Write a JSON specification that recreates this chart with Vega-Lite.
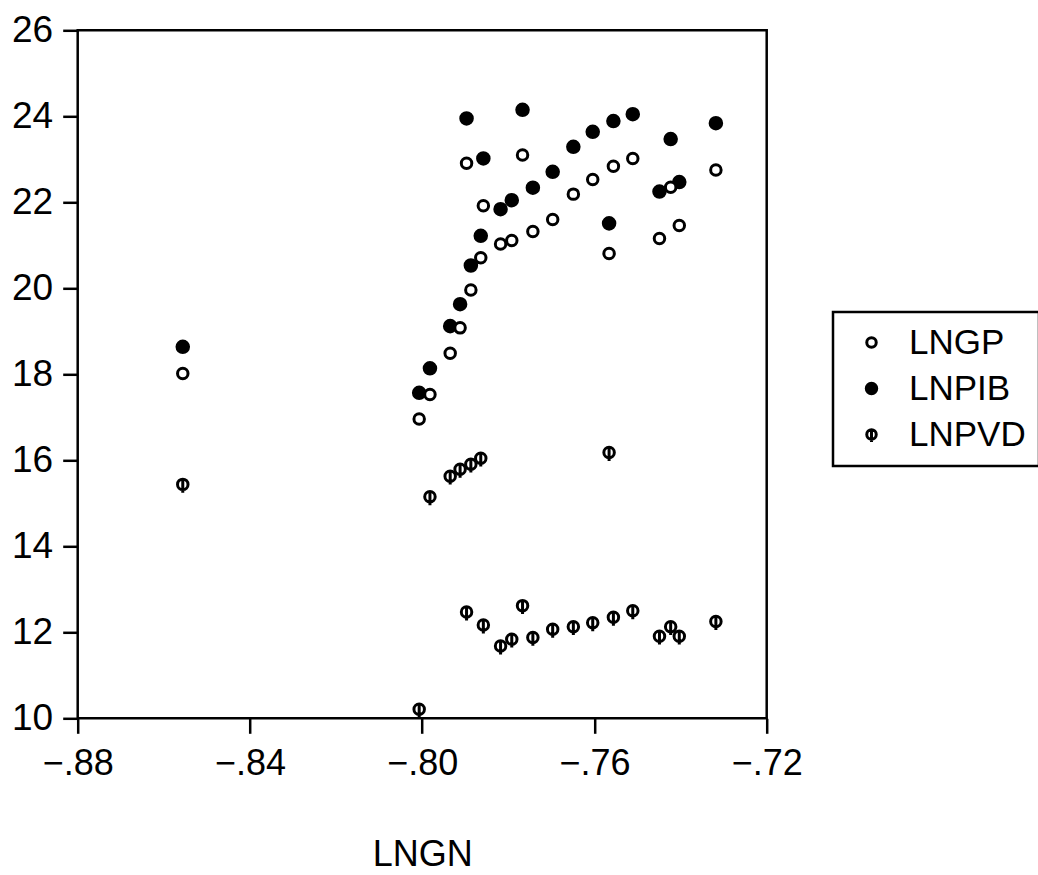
{
  "$schema": "https://vega.github.io/schema/vega-lite/v6.json",
  "width": 689,
  "height": 688,
  "autosize": {"type": "none"},
  "padding": {"left": 77.7, "top": 30.3, "right": 271.3, "bottom": 156.7},
  "background": "white",
  "config": {
    "font": "Liberation Sans",
    "view": {"stroke": "black", "strokeWidth": 2.5},
    "legend": {"strokeWidth": 2.5, "symbolStrokeWidth": 3}
  },
  "data": {
    "values": [
      {"LNGN": -0.8556, "series": "LNPIB", "value": 18.64},
      {"LNGN": -0.8007, "series": "LNPIB", "value": 17.57},
      {"LNGN": -0.7982, "series": "LNPIB", "value": 18.14},
      {"LNGN": -0.7935, "series": "LNPIB", "value": 19.12},
      {"LNGN": -0.7912, "series": "LNPIB", "value": 19.63},
      {"LNGN": -0.7887, "series": "LNPIB", "value": 20.53},
      {"LNGN": -0.7864, "series": "LNPIB", "value": 21.22},
      {"LNGN": -0.7897, "series": "LNPIB", "value": 23.95},
      {"LNGN": -0.7858, "series": "LNPIB", "value": 23.02},
      {"LNGN": -0.7818, "series": "LNPIB", "value": 21.84},
      {"LNGN": -0.7792, "series": "LNPIB", "value": 22.05},
      {"LNGN": -0.7767, "series": "LNPIB", "value": 24.15},
      {"LNGN": -0.7743, "series": "LNPIB", "value": 22.34},
      {"LNGN": -0.7697, "series": "LNPIB", "value": 22.71},
      {"LNGN": -0.7649, "series": "LNPIB", "value": 23.29},
      {"LNGN": -0.7604, "series": "LNPIB", "value": 23.64},
      {"LNGN": -0.7566, "series": "LNPIB", "value": 21.51},
      {"LNGN": -0.7556, "series": "LNPIB", "value": 23.89},
      {"LNGN": -0.7511, "series": "LNPIB", "value": 24.05},
      {"LNGN": -0.7449, "series": "LNPIB", "value": 22.25},
      {"LNGN": -0.7423, "series": "LNPIB", "value": 23.47},
      {"LNGN": -0.7403, "series": "LNPIB", "value": 22.47},
      {"LNGN": -0.7318, "series": "LNPIB", "value": 23.84},
      {"LNGN": -0.8556, "series": "LNGP", "value": 18.02},
      {"LNGN": -0.8007, "series": "LNGP", "value": 16.96},
      {"LNGN": -0.7982, "series": "LNGP", "value": 17.53},
      {"LNGN": -0.7935, "series": "LNGP", "value": 18.49},
      {"LNGN": -0.7912, "series": "LNGP", "value": 19.08},
      {"LNGN": -0.7887, "series": "LNGP", "value": 19.96},
      {"LNGN": -0.7864, "series": "LNGP", "value": 20.71},
      {"LNGN": -0.7897, "series": "LNGP", "value": 22.91},
      {"LNGN": -0.7858, "series": "LNGP", "value": 21.92},
      {"LNGN": -0.7818, "series": "LNGP", "value": 21.03},
      {"LNGN": -0.7792, "series": "LNGP", "value": 21.11},
      {"LNGN": -0.7767, "series": "LNGP", "value": 23.10},
      {"LNGN": -0.7743, "series": "LNGP", "value": 21.32},
      {"LNGN": -0.7697, "series": "LNGP", "value": 21.60},
      {"LNGN": -0.7649, "series": "LNGP", "value": 22.19},
      {"LNGN": -0.7604, "series": "LNGP", "value": 22.53},
      {"LNGN": -0.7566, "series": "LNGP", "value": 20.81},
      {"LNGN": -0.7556, "series": "LNGP", "value": 22.84},
      {"LNGN": -0.7511, "series": "LNGP", "value": 23.02},
      {"LNGN": -0.7449, "series": "LNGP", "value": 21.16},
      {"LNGN": -0.7423, "series": "LNGP", "value": 22.35},
      {"LNGN": -0.7403, "series": "LNGP", "value": 21.46},
      {"LNGN": -0.7318, "series": "LNGP", "value": 22.75},
      {"LNGN": -0.8556, "series": "LNPVD", "value": 15.44},
      {"LNGN": -0.8007, "series": "LNPVD", "value": 10.21},
      {"LNGN": -0.7982, "series": "LNPVD", "value": 15.15},
      {"LNGN": -0.7935, "series": "LNPVD", "value": 15.63},
      {"LNGN": -0.7912, "series": "LNPVD", "value": 15.79},
      {"LNGN": -0.7887, "series": "LNPVD", "value": 15.91},
      {"LNGN": -0.7864, "series": "LNPVD", "value": 16.05},
      {"LNGN": -0.7897, "series": "LNPVD", "value": 12.47},
      {"LNGN": -0.7858, "series": "LNPVD", "value": 12.17},
      {"LNGN": -0.7818, "series": "LNPVD", "value": 11.68},
      {"LNGN": -0.7792, "series": "LNPVD", "value": 11.84},
      {"LNGN": -0.7767, "series": "LNPVD", "value": 12.62},
      {"LNGN": -0.7743, "series": "LNPVD", "value": 11.88},
      {"LNGN": -0.7697, "series": "LNPVD", "value": 12.07},
      {"LNGN": -0.7649, "series": "LNPVD", "value": 12.13},
      {"LNGN": -0.7604, "series": "LNPVD", "value": 12.22},
      {"LNGN": -0.7566, "series": "LNPVD", "value": 16.18},
      {"LNGN": -0.7556, "series": "LNPVD", "value": 12.35},
      {"LNGN": -0.7511, "series": "LNPVD", "value": 12.50},
      {"LNGN": -0.7449, "series": "LNPVD", "value": 11.91},
      {"LNGN": -0.7423, "series": "LNPVD", "value": 12.13},
      {"LNGN": -0.7403, "series": "LNPVD", "value": 11.91},
      {"LNGN": -0.7318, "series": "LNPVD", "value": 12.25}
    ]
  },
  "mark": {"type": "point", "size": 110, "strokeWidth": 3, "opacity": 1, "fillOpacity": 1, "strokeOpacity": 1},
  "encoding": {
    "x": {
      "field": "LNGN",
      "type": "quantitative",
      "scale": {"domain": [-0.88, -0.72], "nice": false, "zero": false},
      "axis": {
        "title": "LNGN",
        "titleFontSize": 36,
        "titleFontWeight": "normal",
        "titleColor": "black",
        "titlePadding": 56,
        "labelFontSize": 36,
        "labelColor": "black",
        "labelPadding": 13,
        "tickSize": 15,
        "tickWidth": 2.5,
        "tickColor": "black",
        "domain": false,
        "grid": false,
        "values": [-0.88, -0.84, -0.80, -0.76, -0.72],
        "labelExpr": "replace(format(datum.value, '.2f'), '0.', '.')",
        "labelFlush": false,
        "labelOverlap": false
      }
    },
    "y": {
      "field": "value",
      "type": "quantitative",
      "scale": {"domain": [10, 26], "nice": false, "zero": false},
      "axis": {
        "title": null,
        "labelFontSize": 37,
        "labelColor": "black",
        "labelPadding": 10,
        "tickSize": 15,
        "tickWidth": 2.5,
        "tickColor": "black",
        "domain": false,
        "grid": false,
        "values": [10, 12, 14, 16, 18, 20, 22, 24, 26],
        "format": "d",
        "labelFlush": false,
        "labelOverlap": false
      }
    },
    "shape": {
      "field": "series",
      "type": "nominal",
      "scale": {
        "domain": ["LNGP", "LNPIB", "LNPVD"],
        "range": [
          "M-1,0A1,1,0,1,1,1,0A1,1,0,1,1,-1,0Z",
          "M-1.1,0A1.1,1.1,0,1,1,1.1,0A1.1,1.1,0,1,1,-1.1,0Z",
          "M-1,0A1,1,0,1,1,1,0A1,1,0,1,1,-1,0ZM0,-1L0,1.6"
        ]
      },
      "legend": {
        "title": null,
        "orient": "none",
        "legendX": 755.3,
        "legendY": 281.7,
        "strokeColor": "black",
        "fillColor": "white",
        "padding": 13,
        "labelFontSize": 35,
        "labelColor": "black",
        "symbolSize": 90,
        "symbolOffset": 8,
        "labelOffset": 20,
        "rowPadding": 10
      }
    },
    "fill": {
      "field": "series",
      "type": "nominal",
      "scale": {"domain": ["LNGP", "LNPIB", "LNPVD"], "range": ["white", "black", "white"]},
      "legend": {
        "title": null,
        "orient": "none",
        "legendX": 755.3,
        "legendY": 281.7,
        "strokeColor": "black",
        "fillColor": "white",
        "padding": 13,
        "labelFontSize": 35,
        "labelColor": "black",
        "symbolSize": 90,
        "symbolOffset": 8,
        "labelOffset": 20,
        "rowPadding": 10
      }
    },
    "stroke": {
      "field": "series",
      "type": "nominal",
      "scale": {"domain": ["LNGP", "LNPIB", "LNPVD"], "range": ["black", "black", "black"]},
      "legend": {
        "title": null,
        "orient": "none",
        "legendX": 755.3,
        "legendY": 281.7,
        "strokeColor": "black",
        "fillColor": "white",
        "padding": 13,
        "labelFontSize": 35,
        "labelColor": "black",
        "symbolSize": 90,
        "symbolOffset": 8,
        "labelOffset": 20,
        "rowPadding": 10
      }
    }
  }
}
